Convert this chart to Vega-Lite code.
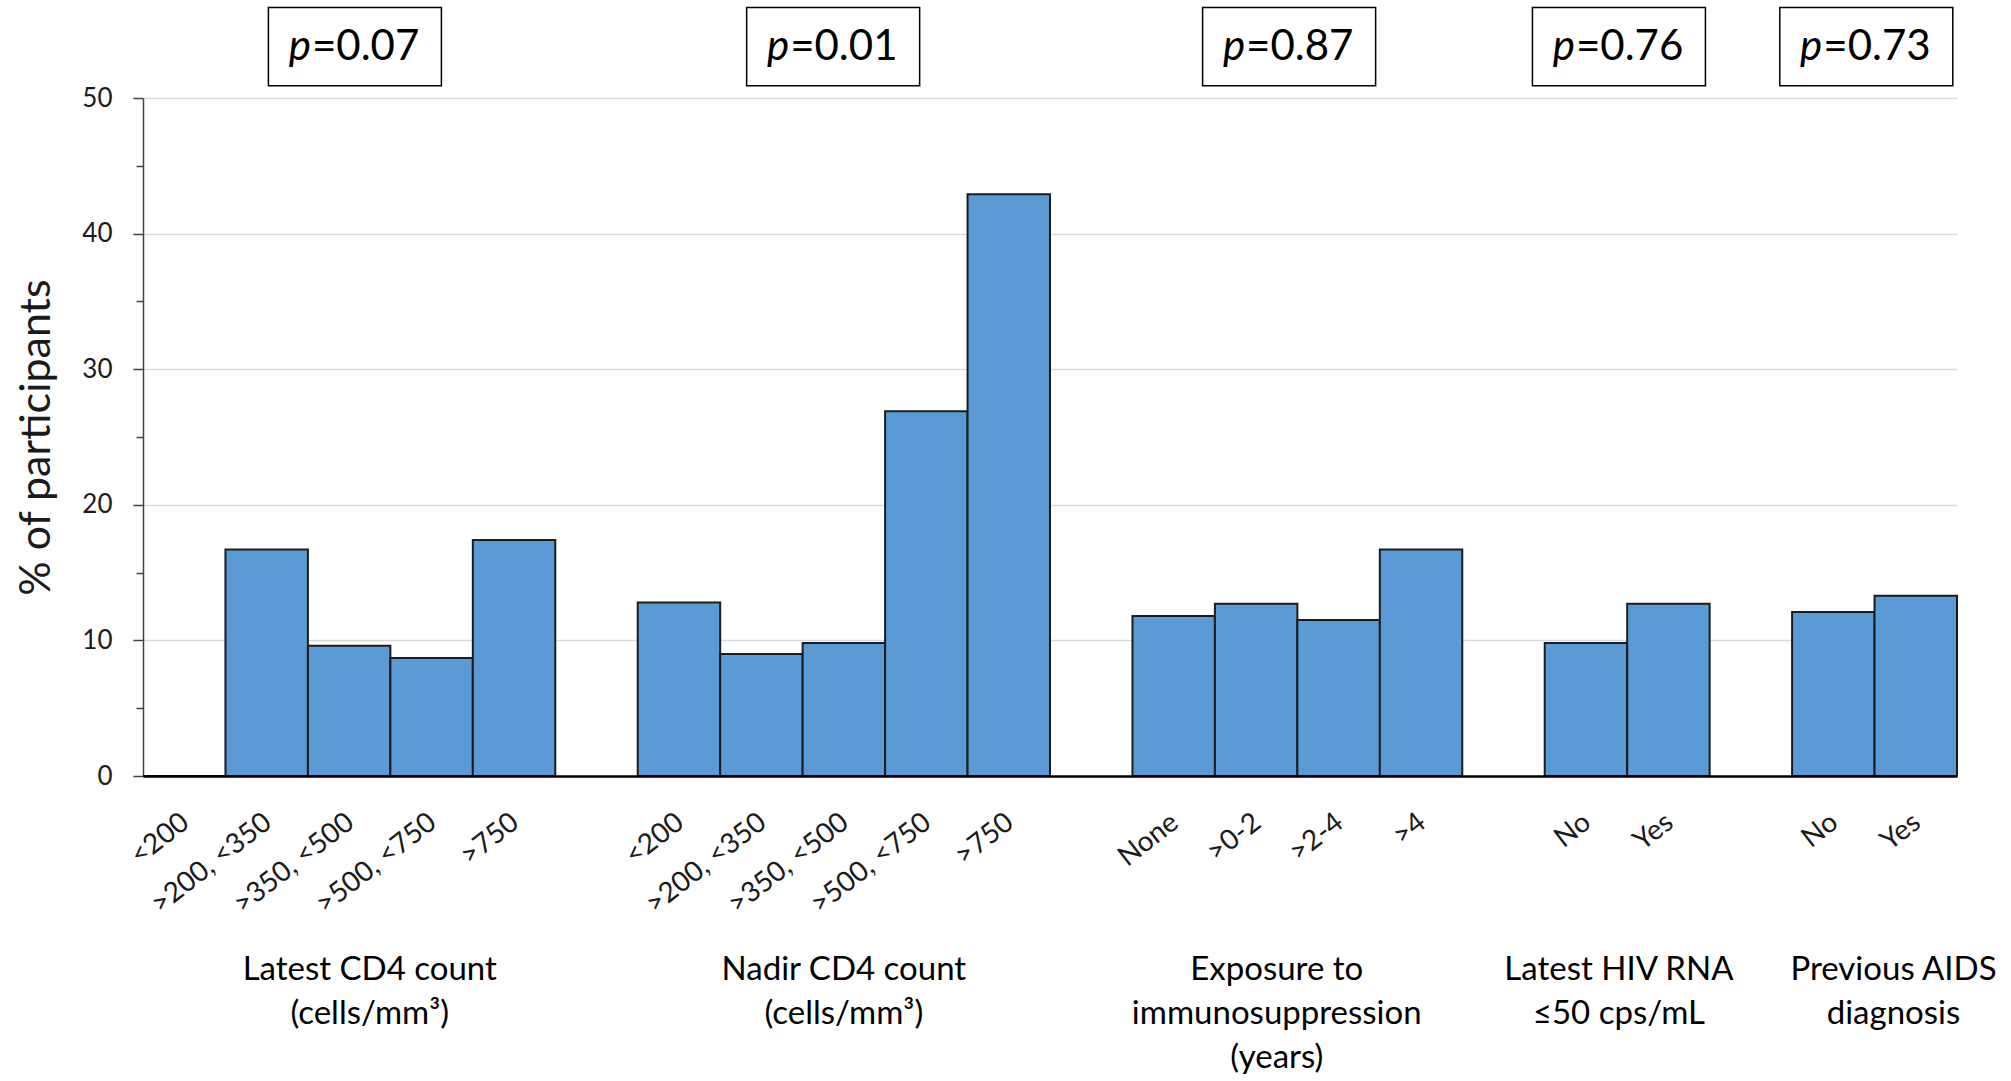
{
  "$schema": "https://vega.github.io/schema/vega-lite/v6.json",
  "autosize": {"type": "none"},
  "padding": {"left": 143, "top": 98, "right": 54, "bottom": 305},
  "width": 1814,
  "height": 678,
  "background": "white",
  "config": {"view": {"stroke": null}, "font": "Lato"},
  "datasets": {
    "bars": [
      {"key": "a|<200", "group": "Latest CD4 count", "category": "<200", "pct": 0},
      {"key": "a|>200, <350", "group": "Latest CD4 count", "category": ">200, <350", "pct": 16.7},
      {"key": "a|>350, <500", "group": "Latest CD4 count", "category": ">350, <500", "pct": 9.6},
      {"key": "a|>500, <750", "group": "Latest CD4 count", "category": ">500, <750", "pct": 8.7},
      {"key": "a|>750", "group": "Latest CD4 count", "category": ">750", "pct": 17.4},
      {"key": "b|<200", "group": "Nadir CD4 count", "category": "<200", "pct": 12.8},
      {"key": "b|>200, <350", "group": "Nadir CD4 count", "category": ">200, <350", "pct": 9.0},
      {"key": "b|>350, <500", "group": "Nadir CD4 count", "category": ">350, <500", "pct": 9.8},
      {"key": "b|>500, <750", "group": "Nadir CD4 count", "category": ">500, <750", "pct": 26.9},
      {"key": "b|>750", "group": "Nadir CD4 count", "category": ">750", "pct": 42.9},
      {"key": "c|None", "group": "Exposure to immunosuppression", "category": "None", "pct": 11.8},
      {"key": "c|>0-2", "group": "Exposure to immunosuppression", "category": ">0-2", "pct": 12.7},
      {"key": "c|>2-4", "group": "Exposure to immunosuppression", "category": ">2-4", "pct": 11.5},
      {"key": "c|>4", "group": "Exposure to immunosuppression", "category": ">4", "pct": 16.7},
      {"key": "d|No", "group": "Latest HIV RNA <50 cps/mL", "category": "No", "pct": 9.8},
      {"key": "d|Yes", "group": "Latest HIV RNA <50 cps/mL", "category": "Yes", "pct": 12.7},
      {"key": "e|No", "group": "Previous AIDS diagnosis", "category": "No", "pct": 12.1},
      {"key": "e|Yes", "group": "Previous AIDS diagnosis", "category": "Yes", "pct": 13.3}
    ],
    "pA": [
      {"anchor": "a|>350, <500", "p": "=0.07"}
    ],
    "pB": [
      {"anchor": "b|>350, <500", "p": "=0.01"}
    ],
    "pC": [
      {"anchor": "c|>0-2", "p": "=0.87"},
      {"anchor": "d|No", "p": "=0.76"},
      {"anchor": "e|No", "p": "=0.73"}
    ],
    "titlesA": [
      {"anchor": "a|>350, <500", "title": ["Latest CD4 count", "(cells/mm³)"]},
      {"anchor": "c|>0-2", "title": ["Exposure to", "immunosuppression", "(years)"]}
    ],
    "titlesB": [
      {"anchor": "b|>350, <500", "title": ["Nadir CD4 count", "(cells/mm³)"]}
    ],
    "titlesC": [
      {"anchor": "e|Yes", "title": ["Previous AIDS", "diagnosis"]}
    ],
    "titlesD": [
      {"anchor": "d|No", "title": ["Latest HIV RNA", "≤50 cps/mL"]}
    ]
  },
  "resolve": {"axis": {"y": "independent", "x": "independent"}},
  "layer": [
    {
      "data": {"name": "bars"},
      "mark": {"type": "bar", "fill": "#5B9BD5", "stroke": "#1c1c1c", "strokeWidth": 2},
      "encoding": {
        "x": {
          "field": "key",
          "type": "nominal",
          "scale": {
            "domain": ["a|<200", "a|>200, <350", "a|>350, <500", "a|>500, <750", "a|>750", "g1|",
                       "b|<200", "b|>200, <350", "b|>350, <500", "b|>500, <750", "b|>750", "g2|",
                       "c|None", "c|>0-2", "c|>2-4", "c|>4", "g3|",
                       "d|No", "d|Yes", "g4|",
                       "e|No", "e|Yes"],
            "paddingInner": 0,
            "paddingOuter": 0
          },
          "axis": {
            "orient": "bottom",
            "title": null,
            "labelExpr": "split(datum.value, '|')[1]",
            "labelAngle": -38,
            "labelAlign": "right",
            "labelBaseline": "top",
            "labelPadding": 32,
            "labelOffset": -7,
            "labelFont": "Lato",
            "labelFontSize": 28,
            "labelColor": "#1a1a1a",
            "labelOverlap": false,
            "labelLimit": 400,
            "ticks": false,
            "tickSize": 0,
            "domainColor": "#000000",
            "domainWidth": 2.5,
            "zindex": 1,
            "grid": false
          }
        },
        "y": {
          "field": "pct",
          "type": "quantitative",
          "scale": {"domain": [0, 50], "nice": false},
          "axis": {
            "orient": "left",
            "values": [0, 10, 20, 30, 40, 50],
            "title": "% of participants",
            "titleFont": "Lato",
            "titleFontSize": 43,
            "titleFontWeight": "normal",
            "titleColor": "#1a1a1a",
            "titlePadding": 23,
            "labelFont": "Lato",
            "labelFontSize": 26,
            "labelColor": "#1a1a1a",
            "labelPadding": 21,
            "tickSize": 10,
            "tickColor": "#404040",
            "tickWidth": 1.5,
            "domainColor": "#404040",
            "domainWidth": 1.5,
            "grid": true,
            "gridColor": "#d9d9d9",
            "gridWidth": 1.5
          }
        }
      }
    },
    {
      "data": {"name": "bars"},
      "mark": {"type": "rule", "opacity": 0},
      "encoding": {
        "y": {
          "datum": 0,
          "type": "quantitative",
          "axis": {
            "orient": "left",
            "values": [5, 15, 25, 35, 45],
            "labels": false,
            "grid": false,
            "domain": false,
            "title": null,
            "tickSize": 7,
            "tickColor": "#404040",
            "tickWidth": 1.5
          }
        }
      }
    },
    {
      "data": {"name": "pA"},
      "encoding": {
        "x": {"field": "anchor", "type": "nominal", "bandPosition": 0.57, "axis": null},
        "y": {"datum": 53.79, "type": "quantitative", "axis": null}
      },
      "layer": [
        {"mark": {"type": "point", "shape": "M-1,-0.453H1V0.453H-1Z", "size": 29929, "filled": false, "fill": "white", "fillOpacity": 1, "stroke": "#000000", "strokeWidth": 1.5, "opacity": 1}},
        {"mark": {"type": "text", "text": "p", "fontStyle": "italic", "font": "Lato", "fontSize": 42, "align": "right", "baseline": "middle", "dx": -44, "color": "#000000"}},
        {"mark": {"type": "text", "font": "Lato", "fontSize": 42, "align": "left", "baseline": "middle", "dx": -43, "color": "#000000"},
         "encoding": {"text": {"field": "p", "type": "nominal"}}}
      ]
    },
    {
      "data": {"name": "pB"},
      "encoding": {
        "x": {"field": "anchor", "type": "nominal", "bandPosition": 0.37, "axis": null},
        "y": {"datum": 53.79, "type": "quantitative", "axis": null}
      },
      "layer": [
        {"mark": {"type": "point", "shape": "M-1,-0.453H1V0.453H-1Z", "size": 29929, "filled": false, "fill": "white", "fillOpacity": 1, "stroke": "#000000", "strokeWidth": 1.5, "opacity": 1}},
        {"mark": {"type": "text", "text": "p", "fontStyle": "italic", "font": "Lato", "fontSize": 42, "align": "right", "baseline": "middle", "dx": -44, "color": "#000000"}},
        {"mark": {"type": "text", "font": "Lato", "fontSize": 42, "align": "left", "baseline": "middle", "dx": -43, "color": "#000000"},
         "encoding": {"text": {"field": "p", "type": "nominal"}}}
      ]
    },
    {
      "data": {"name": "pC"},
      "encoding": {
        "x": {"field": "anchor", "type": "nominal", "bandPosition": 0.9, "axis": null},
        "y": {"datum": 53.79, "type": "quantitative", "axis": null}
      },
      "layer": [
        {"mark": {"type": "point", "shape": "M-1,-0.453H1V0.453H-1Z", "size": 29929, "filled": false, "fill": "white", "fillOpacity": 1, "stroke": "#000000", "strokeWidth": 1.5, "opacity": 1}},
        {"mark": {"type": "text", "text": "p", "fontStyle": "italic", "font": "Lato", "fontSize": 42, "align": "right", "baseline": "middle", "dx": -44, "color": "#000000"}},
        {"mark": {"type": "text", "font": "Lato", "fontSize": 42, "align": "left", "baseline": "middle", "dx": -43, "color": "#000000"},
         "encoding": {"text": {"field": "p", "type": "nominal"}}}
      ]
    },
    {
      "data": {"name": "titlesA"},
      "mark": {"type": "text", "font": "Lato", "fontSize": 33, "align": "center", "baseline": "alphabetic", "lineHeight": 44, "color": "#000000"},
      "encoding": {
        "x": {"field": "anchor", "type": "nominal", "bandPosition": 0.75, "axis": null},
        "y": {"datum": -15.08, "type": "quantitative", "axis": null},
        "text": {"field": "title", "type": "nominal"}
      }
    },
    {
      "data": {"name": "titlesB"},
      "mark": {"type": "text", "font": "Lato", "fontSize": 33, "align": "center", "baseline": "alphabetic", "lineHeight": 44, "color": "#000000"},
      "encoding": {
        "x": {"field": "anchor", "type": "nominal", "bandPosition": 0.5, "axis": null},
        "y": {"datum": -15.08, "type": "quantitative", "axis": null},
        "text": {"field": "title", "type": "nominal"}
      }
    },
    {
      "data": {"name": "titlesC"},
      "mark": {"type": "text", "font": "Lato", "fontSize": 33, "align": "center", "baseline": "alphabetic", "lineHeight": 44, "color": "#000000"},
      "encoding": {
        "x": {"field": "anchor", "type": "nominal", "bandPosition": 0.23, "axis": null},
        "y": {"datum": -15.08, "type": "quantitative", "axis": null},
        "text": {"field": "title", "type": "nominal"}
      }
    },
    {
      "data": {"name": "titlesD"},
      "mark": {"type": "text", "font": "Lato", "fontSize": 33, "align": "center", "baseline": "alphabetic", "lineHeight": 44, "color": "#000000"},
      "encoding": {
        "x": {"field": "anchor", "type": "nominal", "bandPosition": 0.9, "axis": null},
        "y": {"datum": -15.08, "type": "quantitative", "axis": null},
        "text": {"field": "title", "type": "nominal"}
      }
    }
  ]
}
